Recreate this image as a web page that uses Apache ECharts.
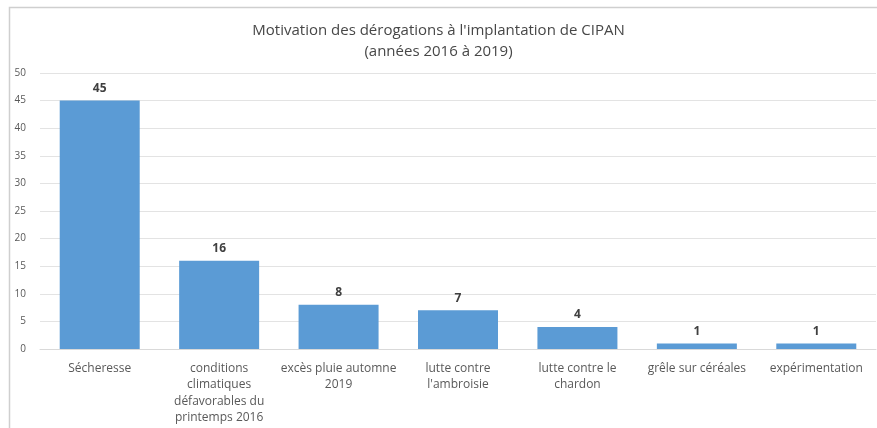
<!DOCTYPE html>
<html>
<head>
<meta charset="utf-8">
<script src="https://cdn.jsdelivr.net/npm/echarts@6/dist/echarts.min.js"></script>
<style>
  html, body { margin: 0; padding: 0; background: #ffffff; }
  #chart { width: 877px; height: 428px; }
</style>
</head>
<body>
<div id="chart"></div>
<script>
// Motifs de dérogation (catégories) et nombre de dérogations accordées
const categories = [
  'Sécheresse',
  'conditions\nclimatiques\ndéfavorables du\nprintemps 2016',
  'excès pluie automne\n2019',
  'lutte contre\nl\'ambroisie',
  'lutte contre le\nchardon',
  'grêle sur céréales',
  'expérimentation'
];
const derogations = [45, 16, 8, 7, 4, 1, 1];
const yTicks = { min: 0, max: 50, interval: 5 };

const titleLines = [
  'Motivation des dérogations à l\'implantation de CIPAN',
  '(années 2016 à 2019)'
];

const FONT = '"Open Sans", "Noto Sans", sans-serif';

const chart = echarts.init(document.getElementById('chart'), null, { renderer: 'canvas' });
chart.setOption({
  animation: false,
  backgroundColor: '#ffffff',
  title: {
    text: titleLines.join('\n'),
    left: 'center',
    top: 15,
    textStyle: {
      fontFamily: FONT,
      fontSize: 15,
      fontWeight: 500,
      color: '#474747',
      lineHeight: 21
    }
  },
  graphic: [{
    type: 'rect',
    shape: { x: 9.5, y: 7.5, width: 900, height: 450 },
    style: { fill: 'none', stroke: '#cfcfcf', lineWidth: 1.5 },
    silent: true,
    z: -1
  }],
  grid: { left: 40, right: 1, top: 73, bottom: 79 },
  xAxis: {
    type: 'category',
    data: categories,
    axisTick: { show: false },
    axisLine: { show: true, lineStyle: { color: '#d9d9d9' } },
    axisLabel: {
      interval: 0,
      margin: 11,
      fontFamily: FONT,
      fontSize: 12,
      lineHeight: 16.5,
      color: '#595959',
      align: 'center'
    }
  },
  yAxis: {
    type: 'value',
    min: yTicks.min,
    max: yTicks.max,
    interval: yTicks.interval,
    axisLine: { show: false },
    axisTick: { show: false },
    splitLine: { lineStyle: { color: '#e3e3e3', width: 1 } },
    axisLabel: {
      margin: 14,
      fontFamily: FONT,
      fontSize: 10,
      color: '#595959'
    }
  },
  series: [{
    type: 'bar',
    data: derogations,
    barWidth: 80,
    itemStyle: { color: '#5b9bd5' },
    label: {
      show: true,
      position: 'top',
      distance: 6,
      fontFamily: FONT,
      fontSize: 12,
      fontWeight: 'bold',
      color: '#404040'
    }
  }]
});
</script>
</body>
</html>
